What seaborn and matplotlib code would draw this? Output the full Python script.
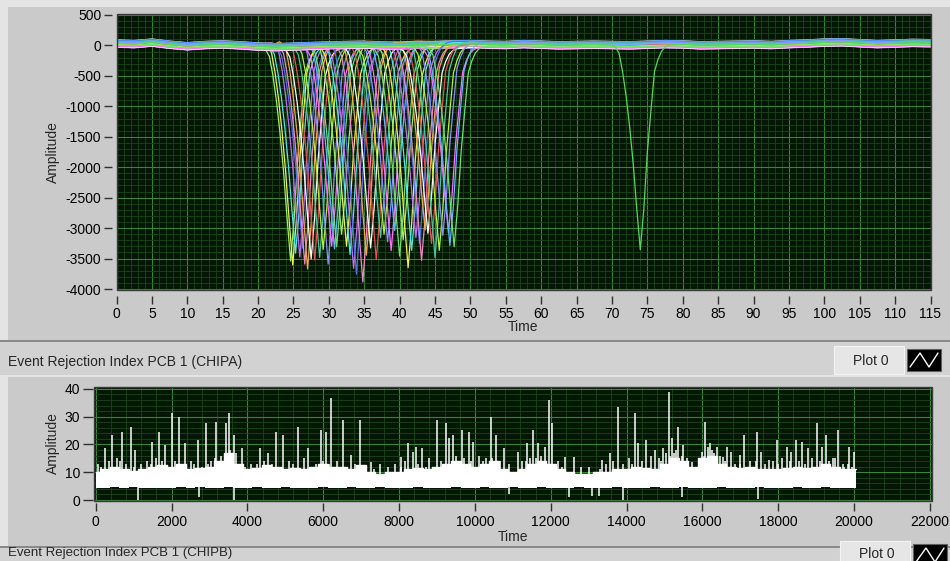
import numpy as np
import pandas as pd
import matplotlib
matplotlib.use("Agg")
import matplotlib.pyplot as plt
import seaborn as sns
from matplotlib.patches import Rectangle
from matplotlib.lines import Line2D

# ---------------- data ----------------
# upper chart: pulses (time of minimum, depth)
pulse_time = [24.6, 24.9, 25.3, 25.9, 26.3, 26.6, 27.0, 27.5, 28.0, 28.7, 29.2, 29.9,
              30.4, 30.8, 31.1, 31.8, 32.5, 33.0, 33.5, 33.9, 34.8, 35.3, 35.9, 36.7,
              37.3, 37.8, 38.3, 38.8, 39.3, 40.0, 40.5, 41.2, 41.7, 42.3, 42.8, 43.1,
              43.6, 44.0, 44.5, 45.0, 45.6, 46.1, 46.9, 47.1, 47.7, 74.0]
pulse_depth = [-3500, -3630, -3400, -3520, -3300, -3600, -3730, -3450, -3550, -3460, -3350, -3630,
               -3250, -3360, -3300, -3150, -3260, -3450, -3600, -3790, -3870, -3500, -3300, -3520,
               -3200, -3050, -3250, -3360, -3100, -3420, -3200, -3630, -3400, -3150, -3300, -3500,
               -3050, -3030, -3250, -3520, -3350, -3150, -3030, -3300, -3280, -3360]
pulse_offset = [-40, 25, -10, 45, -30, 10, 60, -55, 30, -20, 0, 40,
                -45, 20, -5, 50, -35, 15, -60, 35, -15, 55, -25, 5,
                45, -50, 25, -10, 60, -40, 10, -20, 35, -5, 50, -30,
                20, -55, 0, 40, -15, 30, -45, 15, -25, 5]
# normalised pulse shape (read from the isolated pulse at t = 74)
shape_offset = [-4.0, -3.5, -3.0, -2.5, -2.0, -1.5, -1.0, -0.5, 0.0,
                0.5, 1.0, 1.5, 2.0, 2.5, 3.0, 3.5, 4.0]
shape_value = [0.0, 0.01, 0.04, 0.13, 0.25, 0.40, 0.58, 0.80, 1.0,
               0.80, 0.52, 0.32, 0.13, 0.07, 0.03, 0.01, 0.0]
# common baseline, every 2.5 time units from 0 to 115
baseline_value = [30, 20, 45, 10, -15, 5, 15, 0, -20, -30, -20, -10, 0, 5, 10, 0, -5, 10, 5, 15,
                  20, 10, 5, 20, 10, 0, 5, 10, 5, 0, 10, 20, 15, 0, 5, 10, 15, 5, 20, 30,
                  45, 50, 35, 20, 30, 40, 35]
pulse_colors_base = ["#9cf06c", "#f0f050", "#50e8e8", "#c070f0", "#5070f0", "#f088c8",
                     "#f0a848", "#ffffff", "#e85050", "#48c8a0", "#b8f040", "#8890ff",
                     "#ff70ff", "#60b8ff", "#70e070"]
upper_xticks = list(range(0, 116, 5))
upper_yticks = list(range(500, -4001, -500))

# lower chart: band envelope every 250 time units (0 .. 20000)
band_upper = [10, 11, 12, 11, 10.5, 11, 12, 12.5, 12, 13,
              11, 11.5, 12, 14, 17, 13, 11, 11.5, 12.5, 12,
              11, 11.5, 11, 12, 13, 12, 12, 11, 12.5, 10,
              9.5, 10, 10, 11, 11.5, 11, 12, 13, 14, 13,
              12, 13, 14, 11, 10, 11, 13, 14, 13, 11,
              10, 9.5, 9.5, 10, 10, 11, 11, 12, 11.5, 11,
              13, 15, 14, 12, 15, 16, 13, 12, 11.5, 12,
              11, 11, 11, 11.5, 12, 11.5, 12, 13, 12, 11,
              11]
band_lower = [4.5, 4.3, 4.6, 4.4, 4.6, 4.3, 4.5, 4.4, 4.3, 4.6,
              4.4, 4.6, 4.3, 4.5, 4.6, 4.3, 4.4, 4.6, 4.4, 4.5,
              4.6, 4.3, 4.5, 4.4, 4.6, 4.4, 4.5, 4.6, 4.3, 4.4,
              4.6, 4.4, 4.5, 4.3, 4.6, 4.4, 4.5, 4.3, 4.6, 4.4,
              4.5, 4.6, 4.3, 4.4, 4.6, 4.4, 4.5, 4.6, 4.3, 4.5,
              4.4, 4.6, 4.3, 4.5, 4.4, 4.6, 4.3, 4.5, 4.4, 4.6,
              4.4, 4.5, 4.6, 4.3, 4.4, 4.5, 4.6, 4.4, 4.5, 4.3,
              4.6, 4.4, 4.5, 4.4, 4.6, 4.3, 4.5, 4.6, 4.4, 4.4,
              4.5]
band_end = 20050
spike_time = [245, 421, 686, 923, 1036, 1476, 1678, 1828, 2021, 2205, 2355, 2706, 2901, 3165, 3428,
              3507, 3647, 3850, 4333, 4552, 4747, 4931, 5343, 5607, 5934, 6073, 6197, 6530, 6725,
              6970, 7260, 8043, 8228, 8360, 8439, 8613, 9009, 9229, 9317, 9414, 9652, 9845, 9958,
              10417, 10557, 10767, 11144, 11366, 11540, 11672, 11849, 11962, 12025, 12376, 12613,
              13344, 13563, 13782, 14214, 14310, 14504, 14749, 14968, 15127, 15190, 15364, 15496,
              15717, 15997, 16068, 16200, 16377, 16551, 16640, 16746, 16991, 17105, 17432, 17537,
              17756, 17975, 18222, 18328, 18468, 18618, 18792, 19014, 19161, 19259, 19451, 19583,
              19741, 19865, 20005]
spike_height = [18.6, 23.4, 24.6, 26.4, 18.0, 21.0, 24.6, 19.8, 31.2, 30.0, 20.4, 21.6, 27.6, 28.2, 27.6,
                31.2, 23.4, 18.6, 18.6, 16.8, 24.6, 23.4, 26.4, 18.6, 25.2, 24.6, 36.6, 28.8, 16.2,
                28.8, 13.8, 15.6, 20.4, 17.4, 19.2, 18.6, 28.8, 27.8, 22.2, 23.4, 25.2, 24.4, 21.0,
                30.0, 23.4, 18.6, 17.4, 20.4, 25.2, 20.4, 19.2, 36.0, 27.6, 15.6, 15.6,
                14.4, 16.8, 33.6, 31.2, 20.4, 21.6, 18.0, 18.6, 39.0, 22.2, 26.4, 19.8,
                13.8, 17.4, 28.2, 20.4, 19.2, 15.6, 19.2, 17.4, 16.2, 23.4, 24.6, 17.4,
                14.4, 21.6, 19.2, 17.4, 21.6, 21.0, 18.6, 27.6, 19.2, 23.4, 15.0, 25.2,
                12.0, 19.2, 17.4]
minor_spike_time = [60, 150, 350, 480, 550, 650, 800, 1000, 1200, 1350, 1450, 1600, 1750, 1900,
                    2100, 2300, 2500, 2600, 2800, 2950, 3050, 3150, 3300, 3400, 3550, 3600, 3700,
                    3950, 4100, 4250, 4450, 4650, 4900, 5100, 5200, 5500, 5700, 5800, 6000, 6150,
                    6350, 6600, 6850, 7100, 7350, 7500, 7700, 7900, 8050, 8150, 8500, 8700, 8800,
                    9100, 9250, 9500, 9700, 9900, 10100, 10200, 10300, 10450, 10650, 10900, 11250,
                    11350, 11450, 11600, 11750, 12100, 12200, 12300, 12800, 13000, 13300, 13450,
                    13650, 13900, 14050, 14150, 14400, 14650, 14850, 14900, 15050, 15150, 15250,
                    15300, 15450, 15600, 15900, 16050, 16150, 16250, 16300, 16450, 16600, 16850,
                    17000, 17250, 17400, 17650, 17850, 18000, 18100, 18300, 18550, 18700, 18900,
                    19100, 19350, 19500, 19700, 19850, 19950]
minor_spike_height = [13, 12, 14, 12, 15, 14, 13, 12, 13, 14, 13, 15, 14, 12,
                      14, 13, 14, 13, 12, 13, 14, 15, 16, 16, 18, 15, 17,
                      12, 13, 13, 14, 13, 12, 14, 13, 15, 12, 13, 14, 13,
                      14, 12, 13, 12, 11, 13, 12, 13, 12, 14, 13, 12, 15,
                      14, 13, 16, 15, 14, 16, 14, 15, 15, 14, 13, 14,
                      14, 15, 15, 16, 13, 14, 12, 12, 12, 11, 13,
                      14, 13, 15, 13, 14, 16, 15, 14, 17, 16, 17,
                      18, 16, 15, 14, 16, 19, 18, 17, 16, 14, 13,
                      13, 14, 14, 13, 14, 13, 15, 14, 14, 13, 15,
                      14, 14, 15, 13, 13, 12]
dip_time = [1107, 2733, 3647, 10907, 12490, 13080, 13280, 13900, 15454, 17475]
dip_value = [0.0, 1.0, 0.0, 2.0, 1.0, 1.5, 1.5, 0.0, 1.0, 0.5]
lower_xticks = list(range(0, 22001, 2000))
lower_yticks = [0, 10, 20, 30, 40]

# ---------------- style ----------------
sns.set_theme(style="white")
plt.rcParams["font.family"] = ["Liberation Sans", "DejaVu Sans"]
plt.rcParams["axes.unicode_minus"] = False

W, H = 950, 561
PANEL = "#cacaca"
LIGHT = "#e4e4e4"
SEP = "#8a8a8a"
PLOTBG = "#041604"
MAJ = "#3a833a"
MIN = "#1b451b"

fig = plt.figure(figsize=(W / 100, H / 100), dpi=100)
fig.patch.set_facecolor(PANEL)


def rect_px(x0, y0, x1, y1, **kw):
    r = Rectangle((x0 / W, 1 - y1 / H), (x1 - x0) / W, (y1 - y0) / H,
                  transform=fig.transFigure, **kw)
    fig.add_artist(r)
    return r


def axes_px(x0, y0, x1, y1):
    return fig.add_axes([x0 / W, 1 - y1 / H, (x1 - x0) / W, (y1 - y0) / H])


def text_px(x, y, s, **kw):
    fig.text(x / W, 1 - y / H, s, **kw)


# background decorations
rect_px(0, 0, W, 7, facecolor=LIGHT, edgecolor="none", zorder=-5)
rect_px(0, 0, 8, 340, facecolor=LIGHT, edgecolor="none", zorder=-5)
rect_px(0, 340, W, 342, facecolor=SEP, edgecolor="none", zorder=-5)
rect_px(0, 342, W, 376, facecolor="#d2d2d2", edgecolor="none", zorder=-5)
rect_px(0, 375, W, 377, facecolor=LIGHT, edgecolor="none", zorder=-5)
rect_px(0, 377, 8, 547, facecolor=LIGHT, edgecolor="none", zorder=-5)
rect_px(0, 546, W, 548, facecolor=SEP, edgecolor="none", zorder=-5)
rect_px(0, 548, W, H, facecolor="#d2d2d2", edgecolor="none", zorder=-5)


def style_axes(ax, off_x, off_y, xlen, ylen):
    ax.set_facecolor(PLOTBG)
    for s in ["top", "right", "left", "bottom"]:
        ax.spines[s].set_visible(False)
    ax.spines["bottom"].set_position(("outward", off_x))
    ax.spines["left"].set_position(("outward", off_y))
    ax.tick_params(axis="x", which="major", direction="out", length=xlen, width=1,
                   color="#303030", labelsize=10, labelcolor="black", pad=2, bottom=True)
    ax.tick_params(axis="y", which="major", direction="out", length=ylen, width=1,
                   color="#303030", labelsize=10, labelcolor="black", pad=2, left=True)
    ax.tick_params(which="minor", length=0)
    ax.grid(which="major", color=MAJ, lw=0.8)
    ax.grid(which="minor", color=MIN, lw=0.6)
    ax.set_axisbelow(True)
    ax.add_patch(Rectangle((0, 0), 1, 1, transform=ax.transAxes, fill=False,
                           ec="#3a3a3a", lw=1.0, clip_on=False, zorder=6))


# ---------------- upper chart ----------------
base_t = np.arange(len(baseline_value)) * 2.5
base_v = np.array(baseline_value, dtype=float)
sh_t = np.array(shape_offset)
sh_v = np.array(shape_value)
frames = []
for i, (p, d, o) in enumerate(zip(pulse_time, pulse_depth, pulse_offset)):
    keep = (base_t < p + sh_t[0]) | (base_t > p + sh_t[-1])
    t = np.concatenate([base_t[keep], p + sh_t])
    v = np.concatenate([base_v[keep] + o, d * sh_v + o])
    frames.append(pd.DataFrame({"t": t, "amp": v, "pulse": i}))
df_up = pd.concat(frames, ignore_index=True)
n = len(pulse_time)
pal = [pulse_colors_base[i % len(pulse_colors_base)] for i in range(n)]
pal[-1] = "#58d858"

ax1 = axes_px(116.5, 14, 930.5, 290)
sns.lineplot(data=df_up, x="t", y="amp", hue="pulse", palette=pal, legend=False,
             estimator=None, sort=True, lw=0.9, ax=ax1)
ax1.set_xlim(0, 115)
ax1.set_ylim(-4016, 516)
ax1.set_xticks(upper_xticks)
ax1.set_xticks(np.arange(0, 116, 1), minor=True)
ax1.set_yticks(upper_yticks)
ax1.set_yticks(np.arange(-4000, 501, 100), minor=True)
ax1.set_xticklabels([str(v) for v in upper_xticks])
ax1.set_yticklabels([str(v) for v in upper_yticks])
ax1.set_xlabel("")
ax1.set_ylabel("")
style_axes(ax1, 4, 3, 6, 6)
text_px(523, 327, "Time", ha="center", va="center", fontsize=10)
text_px(53, 152, "Amplitude", ha="center", va="center", rotation=90, fontsize=10)

# ---------------- lower chart ----------------
env_t = np.arange(len(band_upper)) * 250.0
env_t[-1] = band_end
ax2 = axes_px(94, 387, 931.7, 500.7)
ax2.fill_between(env_t, band_lower, band_upper, step="mid", color="white", lw=0, zorder=3)
ax2.vlines(spike_time, 9, spike_height, color="white", lw=1.1, zorder=3)
ax2.vlines(minor_spike_time, 9, minor_spike_height, color="white", lw=1.1, zorder=3)
ax2.vlines(dip_time, dip_value, 5, color="white", lw=1.1, zorder=3)
sns.lineplot(x=env_t, y=band_upper, color="white", lw=1.0, drawstyle="steps-mid", ax=ax2, zorder=3)
ax2.set_xlim(-45, 22045)
ax2.set_ylim(-0.25, 40.7)
ax2.set_xticks(lower_xticks)
ax2.set_xticks(np.arange(0, 22001, 400), minor=True)
ax2.set_yticks(lower_yticks)
ax2.set_yticks(np.arange(0, 41, 2), minor=True)
ax2.set_xticklabels([str(v) for v in lower_xticks])
ax2.set_yticklabels([str(v) for v in lower_yticks])
style_axes(ax2, 2, 1, 6, 7)
text_px(513, 537, "Time", ha="center", va="center", fontsize=10)
text_px(53, 443, "Amplitude", ha="center", va="center", rotation=90, fontsize=10)

# ---------------- captions & legends ----------------
text_px(8, 362, "Event Rejection Index PCB 1 (CHIPA)", ha="left", va="center", fontsize=10)
text_px(8, 553, "Event Rejection Index PCB 1 (CHIPB)", ha="left", va="center", fontsize=9.5)


def legend_box(x0, y0, x1, y1, ty):
    rect_px(x0, y0, x1 - 40, y1, facecolor="#e6e6e6", edgecolor="#f4f4f4", lw=0.8, zorder=2)
    text_px((x0 + x1 - 40) / 2 + 2, ty, "Plot 0", ha="center", va="center", fontsize=10)
    bx0, bx1 = x1 - 37, x1 - 3
    by0, by1 = y0 + 3, y1 - 3
    rect_px(bx0, by0, bx1, by1, facecolor="black", edgecolor="#606060", lw=0.8, zorder=2)
    xs = np.array([bx0 + 3, bx0 + 13, bx0 + 22, bx1 - 3]) / W
    ys = 1 - np.array([by1 - 4, by0 + 4, by1 - 4, by0 + 4]) / H
    fig.add_artist(Line2D(xs, ys, color="white", lw=1.0, transform=fig.transFigure, zorder=3))


legend_box(834, 346, 944, 374, 361)
legend_box(840, 541, 950, 569, 554)

fig.savefig("out.png", dpi=100, facecolor=fig.get_facecolor())
